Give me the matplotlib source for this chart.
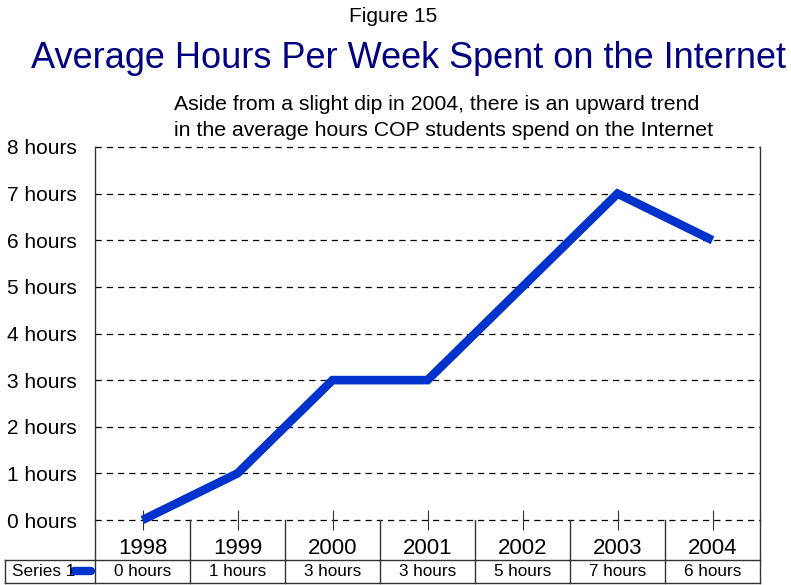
import numpy as np
import matplotlib.pyplot as plt

plt.rcParams['font.family'] = ['Liberation Sans', 'DejaVu Sans']

years = ['1998', '1999', '2000', '2001', '2002', '2003', '2004']
hours = [0, 1, 3, 3, 5, 7, 6]
y_ticks = [0, 1, 2, 3, 4, 5, 6, 7, 8]
series_name = 'Series 1'
line_color = '#0033cc'


def Main():
    W, H = 791, 585
    fig = plt.figure(figsize=(W / 100, H / 100), dpi=100)

    # main plot area in pixel terms
    left, right, top, bottom = 95, 760, 147, 520
    ax = fig.add_axes([left / W, 1 - bottom / H, (right - left) / W, (bottom - top) / H])
    x = np.arange(len(years))
    ax.set_xlim(-0.5, len(years) - 0.5)
    ax.set_ylim(0, 8)

    for v in y_ticks:
        ax.axhline(v, color='black', lw=0.9, ls=(0, (5, 4)), zorder=1, clip_on=False)
    ax.plot(x, hours, color=line_color, lw=6.2, solid_capstyle='butt',
            solid_joinstyle='miter', zorder=3, clip_on=False)

    ax.set_yticks(y_ticks)
    ax.set_yticklabels(['%d hours' % v for v in y_ticks], fontsize=15)
    ax.tick_params(axis='y', length=0, pad=13)
    ax.set_xticks(x)
    ax.set_xticklabels([])
    ax.tick_params(axis='x', direction='inout', length=14, width=0.8, color='#333333')
    for s in ['top', 'bottom']:
        ax.spines[s].set_visible(False)
    for s in ['left', 'right']:
        ax.spines[s].set_color('#333333')
        ax.spines[s].set_linewidth(1.0)

    # data table below
    tb = fig.add_axes([left / W, 1 - 583 / H, (right - left) / W, (583 - bottom) / H])
    tb.set_xlim(-0.5, len(years) - 0.5)
    tb.set_ylim(583, bottom)
    tb.axis('off')
    row_y = 560
    col_w = (right - left) / len(years)
    x0 = -0.5 - (left - 5) / col_w
    for i in range(len(years) + 1):
        tb.plot([i - 0.5, i - 0.5], [bottom, 583], color='#333333', lw=1.0, clip_on=False)
    tb.plot([x0, len(years) - 0.5], [row_y, row_y], color='#333333', lw=1.0, clip_on=False)
    tb.plot([x0, len(years) - 0.5], [583, 583], color='#333333', lw=1.0, clip_on=False)
    tb.plot([x0, x0], [row_y, 583], color='#333333', lw=1.0, clip_on=False)
    for i, (yr, h) in enumerate(zip(years, hours)):
        tb.text(i, 548, yr, ha='center', va='center', fontsize=16)
        tb.text(i, 572, '%d hours' % h, ha='center', va='center', fontsize=12.3)
    tb.text(x0 + 0.07, 572, series_name, ha='left', va='center', fontsize=12.3, clip_on=False)
    kx0 = -0.5 - (left - 74) / col_w
    kx1 = -0.5 - (left - 91) / col_w
    tb.plot([kx0, kx1], [571, 571], color=line_color, lw=6, solid_capstyle='round',
            clip_on=False)

    fig.text(393 / W, 1 - 17 / H, 'Figure 15', ha='center', va='center', fontsize=15)
    fig.text(409 / W, 1 - 58 / H, 'Average Hours Per Week Spent on the Internet',
             ha='center', va='center', fontsize=26, color='#000080')
    fig.text(174 / W, 1 - 104 / H,
             'Aside from a slight dip in 2004, there is an upward trend',
             ha='left', va='center', fontsize=15.3)
    fig.text(174 / W, 1 - 130 / H,
             'in the average hours COP students spend on the Internet',
             ha='left', va='center', fontsize=15.3)

    fig.savefig('out.png', dpi=100)


if __name__ == "__main__":
    Main()
